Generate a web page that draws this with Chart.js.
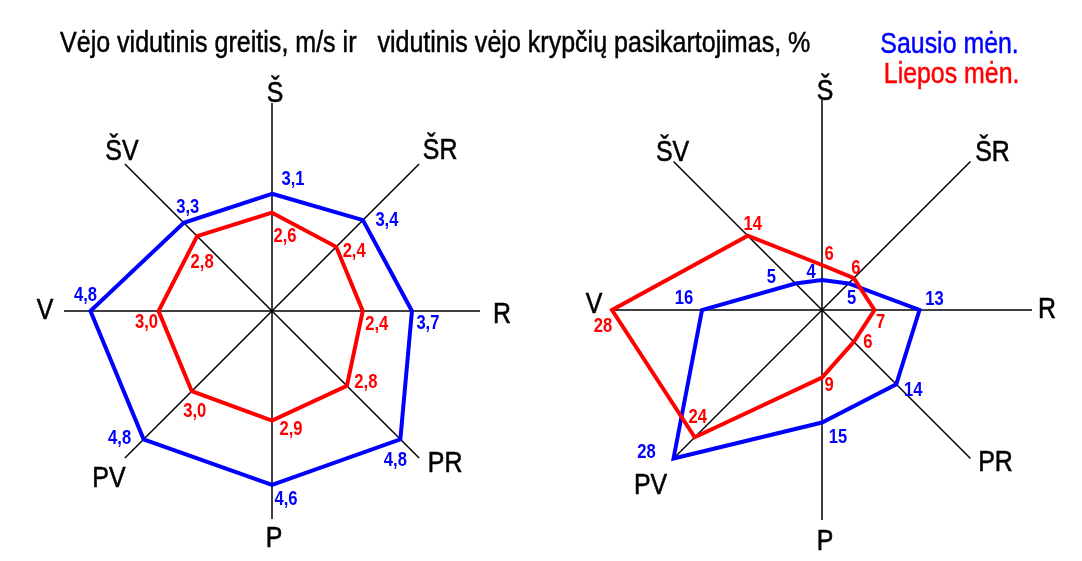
<!DOCTYPE html>
<html>
<head>
<meta charset="utf-8">
<script src="https://cdn.jsdelivr.net/npm/chart.js@4"></script>
<style>
body{margin:0;background:#fff;width:1082px;height:561px;overflow:hidden;position:relative;font-family:"Liberation Sans",Arial,sans-serif}
canvas{position:absolute;top:0}
#c1{left:0}
#c2{left:544px}
.txt{position:absolute;font-size:30px;line-height:30px;white-space:pre;-webkit-text-stroke:0.5px currentColor}
#title{left:60px;top:27px;color:#000;transform:scaleX(0.835);transform-origin:0 0}
#leg1{right:63px;top:28px;color:#0000ff;transform:scaleX(0.83);transform-origin:100% 0}
#leg2{right:63px;top:58px;color:#ff0000;transform:scaleX(0.83);transform-origin:100% 0}
</style>
</head>
<body>
<canvas id="c1" width="544" height="561"></canvas>
<canvas id="c2" width="538" height="561"></canvas>
<div class="txt" id="title">Vėjo vidutinis greitis, m/s ir   vidutinis vėjo krypčių pasikartojimas, %</div>
<div class="txt" id="leg1">Sausio mėn.</div>
<div class="txt" id="leg2">Liepos mėn.</div>
<script>
const directions = ['Š', 'ŠR', 'R', 'PR', 'P', 'PV', 'V', 'ŠV'];
// vidutinis vėjo greitis, m/s
const speedJan = [3.1, 3.4, 3.7, 4.8, 4.6, 4.8, 4.8, 3.3];
const speedJul = [2.6, 2.4, 2.4, 2.8, 2.9, 3.0, 3.0, 2.8];
// vėjo krypčių pasikartojimas, %
const freqJan = [4, 5, 13, 14, 15, 28, 16, 5];
const freqJul = [6, 6, 7, 6, 9, 24, 28, 14];
const speedMax = 5.5;
const freqMax = 28;

const BLUE = '#0000ff', RED = '#ff0000';
const FONT = '"Liberation Sans", Arial, sans-serif';
const NARROW = 0.83; // the original uses a narrow face

// where the value labels sit relative to their points [dx, dy]; [liepos, sausio]
const leftValueOffsets = [
  [[13,24],[18,5],[14,13],[19,-3],[19,9],[3,20],[-12,11],[5,26]],
  [[21,-14],[24,0],[16,12],[-5,21],[14,15],[-24,-1],[-5,-16],[4,-15]]
];
const rightValueOffsets = [
  [[7,-11],[2,-10],[6,12],[14,1],[7,8],[3,-20],[-9,16],[5,-11]],
  [[-11,-8],[3,15],[15,-11],[17,6],[16,15],[-27,-6],[-18,-12],[-24,-6]]
];
// direction names relative to the end of each axis line
const leftDirOffsets = [[3,-1],[21,-5],[22,12],[26,14],[2,28],[-16,29],[-19,8],[-3,-4]];
const rightDirOffsets = [[3,0],[22,-1],[15,8],[25,13],[3,30],[-23,36],[-18,3],[-1,-1]];

function narrowText(ctx, txt, x, y, stroke) {
  const w = ctx.measureText(txt).width * NARROW;
  ctx.fillText(txt, x, y, w);
  if (stroke) ctx.strokeText(txt, x, y, w);
}

const windRoseText = {
  id: 'windRoseText',
  afterDatasetsDraw(chart, args, opts) {
    const ctx = chart.ctx;
    const scale = chart.scales.r;
    ctx.save();
    ctx.font = '30px ' + FONT;
    ctx.fillStyle = '#000';
    ctx.strokeStyle = '#000';
    ctx.lineWidth = 0.6;
    ctx.textAlign = 'center';
    ctx.textBaseline = 'alphabetic';
    chart.data.labels.forEach((lab, i) => {
      const p = scale.getPointPosition(i, scale.drawingArea);
      const o = opts.dirOffsets[i];
      narrowText(ctx, lab, p.x + o[0], p.y + o[1], true);
    });
    ctx.font = 'bold 20px ' + FONT;
    ctx.textBaseline = 'middle';
    chart.data.datasets.forEach((ds, d) => {
      const meta = chart.getDatasetMeta(d);
      const offs = opts.valueOffsets[d];
      ctx.fillStyle = ds.borderColor;
      meta.data.forEach((pt, i) => {
        const v = ds.data[i];
        const txt = opts.decimals ? v.toFixed(opts.decimals).replace('.', ',') : String(v);
        narrowText(ctx, txt, pt.x + offs[i][0], pt.y + offs[i][1], false);
      });
    });
    ctx.restore();
  }
};

function makeRose(id, jan, jul, max, padding, decimals, valueOffsets, dirOffsets) {
  const ctx = document.getElementById(id).getContext('2d');
  return new Chart(ctx, {
    type: 'radar',
    data: {
      labels: directions,
      datasets: [
        { label: 'Liepos mėn.', data: jul, borderColor: RED, borderWidth: 4, fill: false, pointRadius: 0, tension: 0 },
        { label: 'Sausio mėn.', data: jan, borderColor: BLUE, borderWidth: 4, fill: false, pointRadius: 0, tension: 0 }
      ]
    },
    options: {
      responsive: false,
      animation: false,
      layout: { padding: padding },
      plugins: {
        legend: { display: false },
        tooltip: { enabled: false },
        windRoseText: { decimals: decimals, valueOffsets: valueOffsets, dirOffsets: dirOffsets }
      },
      scales: {
        r: {
          min: 0,
          max: max,
          ticks: { display: false },
          grid: { display: false },
          angleLines: { color: '#000', lineWidth: 1.5 },
          pointLabels: { display: false }
        }
      }
    },
    plugins: [windRoseText]
  });
}

makeRose('c1', speedJan, speedJul, speedMax, { left: 64, right: 64, top: 103, bottom: 42 }, 1, leftValueOffsets, leftDirOffsets);
makeRose('c2', freqJan, freqJul, freqMax, { left: 68, right: 50, top: 100, bottom: 41 }, 0, rightValueOffsets, rightDirOffsets);
</script>
</body>
</html>
